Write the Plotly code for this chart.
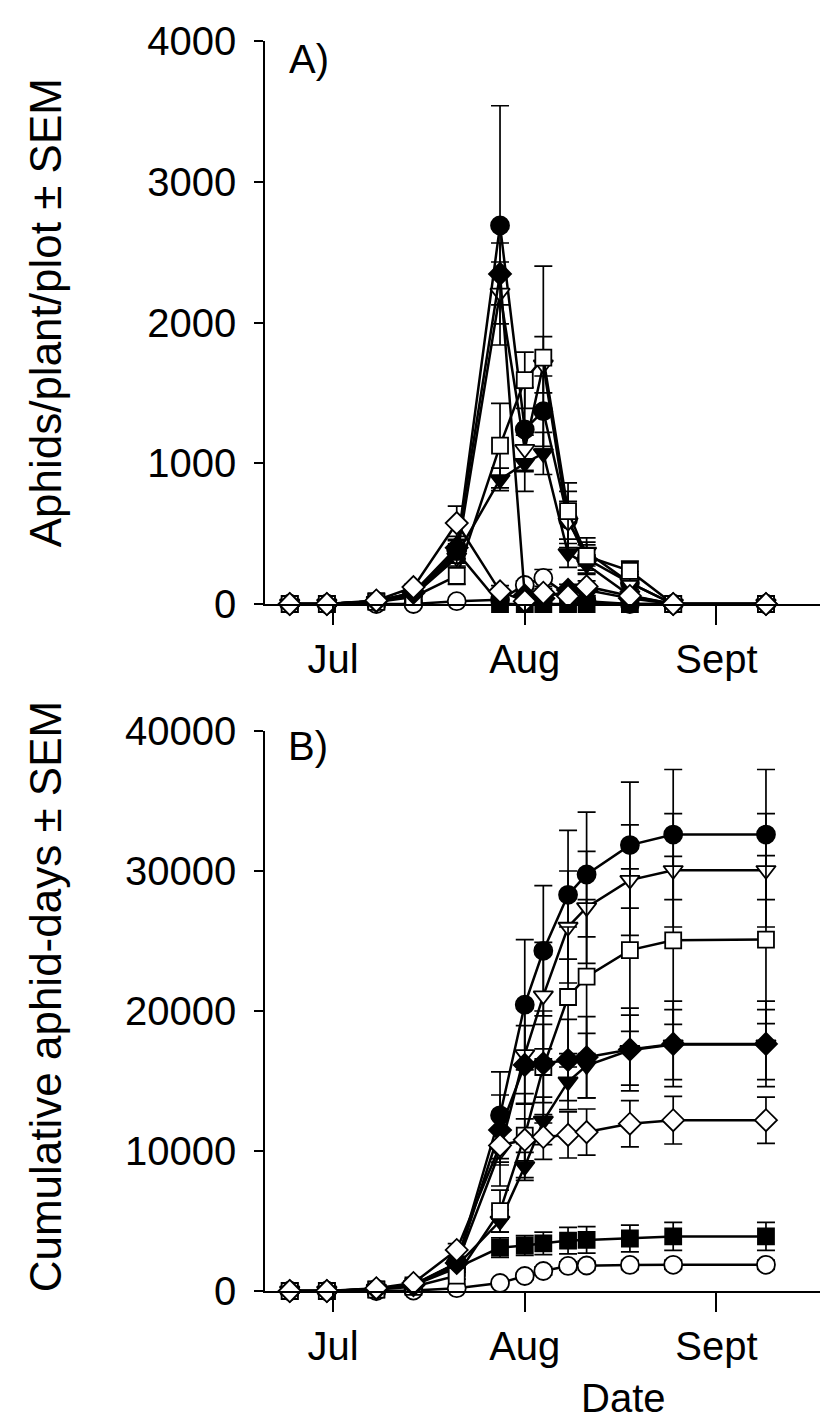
import plotly.graph_objects as go

# ---------------- data ----------------
dates = ["2015-06-24", "2015-06-30", "2015-07-08", "2015-07-14", "2015-07-21",
         "2015-07-28", "2015-08-01", "2015-08-04", "2015-08-08", "2015-08-11",
         "2015-08-18", "2015-08-25", "2015-09-09"]
tick_dates = ["2015-07-01", "2015-08-01", "2015-09-01"]
tick_text = ["Jul", "Aug", "Sept"]
A_ticks = [0, 1000, 2000, 3000, 4000]
A_tick_text = ["0", "1000", "2000", "3000", "4000"]
B_ticks = [0, 10000, 20000, 30000, 40000]
B_tick_text = ["0", "10000", "20000", "30000", "40000"]

# Panel A: aphids/plant/plot (mean, SEM)
A_fcircle = [0, 0, 20, 80, 380, 2690, 1240, 1370, 600, 320, 150, 0, 0]
A_fcircle_se = [0, 0, 5, 20, 80, 850, 300, 250, 200, 100, 80, 0, 0]
A_ocircle = [0, 0, 0, 0, 20, 30, 135, 185, 60, 20, 0, 0, 0]
A_ocircle_se = [0, 0, 0, 5, 10, 10, 30, 60, 30, 20, 10, 0, 0]
A_ftri = [0, 0, 20, 70, 350, 885, 1000, 1070, 360, 280, 60, 0, 0]
A_ftri_se = [0, 0, 5, 20, 60, 80, 200, 150, 100, 70, 40, 0, 0]
A_otri = [0, 0, 20, 60, 330, 2210, 1100, 1700, 580, 370, 150, 0, 0]
A_otri_se = [0, 0, 5, 20, 60, 220, 150, 200, 150, 100, 60, 0, 0]
A_fsquare = [0, 0, 20, 80, 370, 0, 0, 0, 0, 0, 0, 0, 0]
A_fsquare_se = [0, 0, 5, 20, 80, 5, 5, 5, 5, 5, 5, 0, 0]
A_osquare = [0, 0, 15, 50, 200, 1125, 1590, 1750, 660, 340, 235, 0, 0]
A_osquare_se = [0, 0, 5, 20, 60, 300, 200, 650, 200, 100, 70, 0, 0]
A_fdiamond = [0, 0, 20, 80, 400, 2345, 60, 40, 100, 100, 40, 0, 0]
A_fdiamond_se = [0, 0, 5, 20, 80, 220, 30, 30, 40, 40, 30, 0, 0]
A_odiamond = [0, 0, 25, 120, 575, 90, 20, 80, 55, 125, 57, 0, 0]
A_odiamond_se = [0, 0, 5, 20, 120, 40, 20, 30, 30, 40, 30, 0, 0]

# Panel B: cumulative aphid-days (mean, SEM)
B_fcircle = [0, 0, 150, 450, 2000, 12550, 20450, 24300, 28300, 29750, 31850, 32600, 32600]
B_fcircle_se = [0, 0, 20, 80, 400, 3100, 4650, 4650, 4600, 4450, 4500, 4650, 4650]
B_ocircle = [0, 0, 0, 30, 200, 570, 1070, 1430, 1790, 1820, 1860, 1870, 1870]
B_ocircle_se = [0, 0, 0, 10, 50, 150, 250, 300, 300, 320, 330, 330, 330]
B_ftri = [0, 0, 130, 400, 1800, 5000, 8900, 12150, 14950, 16100, 17200, 17600, 17600]
B_ftri_se = [0, 0, 20, 60, 300, 800, 1000, 1700, 2000, 2300, 2500, 2500, 2500]
B_otri = [0, 0, 150, 400, 1900, 10000, 16900, 21100, 26000, 27400, 29350, 30050, 30050]
B_otri_se = [0, 0, 20, 60, 350, 2500, 3500, 3800, 4000, 4000, 3950, 4050, 4050]
B_fsquare = [0, 0, 120, 400, 1650, 3100, 3250, 3400, 3600, 3650, 3750, 3900, 3900]
B_fsquare_se = [0, 0, 20, 60, 300, 700, 700, 800, 950, 950, 950, 1000, 1000]
B_osquare = [0, 0, 100, 300, 1100, 5700, 11100, 16000, 21000, 22450, 24350, 25050, 25100]
B_osquare_se = [0, 0, 20, 50, 250, 1500, 3000, 4000, 5000, 5500, 5800, 6000, 6000]
B_fdiamond = [0, 0, 150, 420, 2000, 11500, 16150, 16250, 16500, 16700, 17250, 17650, 17650]
B_fdiamond_se = [0, 0, 20, 60, 350, 2500, 2800, 2800, 2900, 2900, 2950, 3050, 3050]
B_odiamond = [0, 0, 200, 570, 2930, 10400, 10800, 11000, 11150, 11350, 11950, 12200, 12200]
B_odiamond_se = [0, 0, 30, 100, 450, 1200, 1500, 1600, 1650, 1650, 1650, 1700, 1650]

# series drawing order: (symbol, filled, A mean, A se, B mean, B se)
series = [
    ("circle", True, A_fcircle, A_fcircle_se, B_fcircle, B_fcircle_se),
    ("circle", False, A_ocircle, A_ocircle_se, B_ocircle, B_ocircle_se),
    ("triangle-down", True, A_ftri, A_ftri_se, B_ftri, B_ftri_se),
    ("triangle-down", False, A_otri, A_otri_se, B_otri, B_otri_se),
    ("square", True, A_fsquare, A_fsquare_se, B_fsquare, B_fsquare_se),
    ("square", False, A_osquare, A_osquare_se, B_osquare, B_osquare_se),
    ("diamond", True, A_fdiamond, A_fdiamond_se, B_fdiamond, B_fdiamond_se),
    ("diamond", False, A_odiamond, A_odiamond_se, B_odiamond, B_odiamond_se),
]
sizes = {"circle": 18, "square": 16, "triangle-down": 17, "diamond": 17}

fig = go.Figure()
for sym, filled, am, ase, bm, bse in series:
    for (ym, yse, xa, ya) in [(am, ase, "x", "y"), (bm, bse, "x2", "y2")]:
        fig.add_trace(go.Scatter(
            x=dates, y=ym, xaxis=xa, yaxis=ya, mode="lines+markers",
            line=dict(color="black", width=2.5),
            marker=dict(symbol=sym, size=sizes[sym],
                        color="black" if filled else "white",
                        line=dict(color="black", width=1.8)),
            error_y=dict(type="data", array=yse, visible=True,
                         color="black", thickness=1.7, width=9),
            cliponaxis=False, showlegend=False, hoverinfo="skip"))

font_family = "Liberation Sans, Arial, sans-serif"
axis_common = dict(showline=True, linecolor="black", linewidth=1.6,
                   showgrid=False, zeroline=False, ticks="outside",
                   tickcolor="black", tickwidth=1.6,
                   tickfont=dict(family=font_family, size=40, color="black"))
xr = ["2015-06-20", "2015-09-20"]
fig.update_layout(
    width=828, height=1420, plot_bgcolor="white", paper_bgcolor="white",
    margin=dict(l=257, r=2, t=33, b=137),
    font=dict(family=font_family, color="black"),
    xaxis=dict(domain=[0, 1], anchor="y", type="date", range=xr,
               tickvals=tick_dates, ticktext=tick_text, ticklen=19, **axis_common),
    yaxis=dict(domain=[0.5496, 1], anchor="x", range=[0, 4000],
               tickvals=A_ticks, ticktext=A_tick_text, ticklen=9,
               ticklabelstandoff=10, **axis_common),
    xaxis2=dict(domain=[0, 1], anchor="y2", type="date", range=xr,
                tickvals=tick_dates, ticktext=tick_text, ticklen=19, **axis_common),
    yaxis2=dict(domain=[0, 0.448], anchor="x2", range=[0, 40000],
                tickvals=B_ticks, ticktext=B_tick_text, ticklen=9,
                ticklabelstandoff=10, **axis_common),
)

ann_font = dict(family=font_family, size=44, color="black")
fig.add_annotation(text="Aphids/plant/plot ± SEM", xref="paper", yref="paper",
                   x=-0.386, y=0.7824, textangle=-90, showarrow=False,
                   xanchor="center", yanchor="middle", font=ann_font)
fig.add_annotation(text="Cumulative aphid-days ± SEM", xref="paper", yref="paper",
                   x=-0.386, y=0.236, textangle=-90, showarrow=False,
                   xanchor="center", yanchor="middle", font=ann_font)
fig.add_annotation(text="Date", xref="paper", yref="paper", x=0.63, y=-0.1048,
                   showarrow=False, xanchor="center", yanchor="bottom",
                   font=dict(family=font_family, size=40, color="black"))
fig.add_annotation(text="A)", xref="paper", yref="paper", x=0.0773, y=0.986,
                   showarrow=False, xanchor="center", yanchor="middle",
                   font=dict(family=font_family, size=40, color="black"))
fig.add_annotation(text="B)", xref="paper", yref="paper", x=0.0756, y=0.436,
                   showarrow=False, xanchor="center", yanchor="middle",
                   font=dict(family=font_family, size=40, color="black"))

fig.write_html("out.html")
